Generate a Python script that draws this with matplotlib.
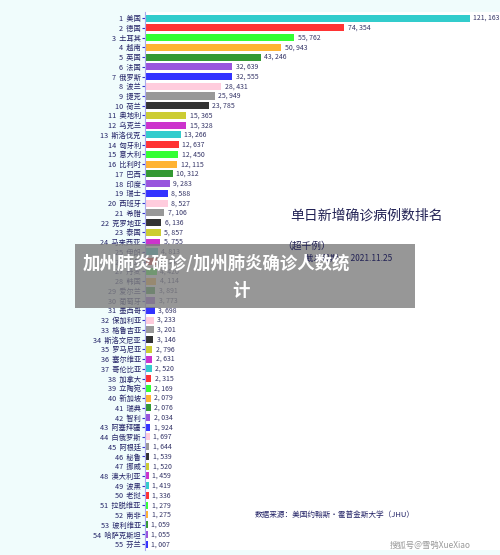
import matplotlib
matplotlib.use("Agg")
import matplotlib.pyplot as plt
from matplotlib.patches import Rectangle

plt.rcParams['font.family'] = ['Noto Sans CJK SC', 'DejaVu Sans']

countries = ["美国", "德国", "土耳其", "越南", "英国", "法国", "俄罗斯", "波兰", "捷克", "荷兰",
             "奥地利", "乌克兰", "斯洛伐克", "匈牙利", "意大利", "比利时", "巴西", "印度", "瑞士", "西班牙",
             "希腊", "克罗地亚", "泰国", "马来西亚", "伊朗", "约旦", "丹麦", "韩国", "爱尔兰", "葡萄牙",
             "墨西哥", "保加利亚", "格鲁吉亚", "斯洛文尼亚", "罗马尼亚", "塞尔维亚", "哥伦比亚", "加拿大", "立陶宛", "新加坡",
             "瑞典", "智利", "阿塞拜疆", "白俄罗斯", "阿根廷", "秘鲁", "挪威", "澳大利亚", "波黑", "老挝",
             "拉脱维亚", "南非", "玻利维亚", "哈萨克斯坦", "芬兰"]
cases = [121163, 74354, 55762, 50943, 43246, 32639, 32555, 28431, 25949, 23785,
         15365, 15328, 13266, 12637, 12450, 12115, 10312, 9283, 8588, 8527,
         7106, 6136, 5857, 5755, 4813, 4540, 4420, 4114, 3891, 3773,
         3698, 3233, 3201, 3146, 2796, 2631, 2520, 2315, 2169, 2079,
         2076, 2034, 1924, 1697, 1644, 1539, 1520, 1459, 1419, 1336,
         1279, 1275, 1059, 1055, 1007]
palette = ["#33cccc", "#ff3333", "#33ff33", "#ffb333", "#339933", "#9955dd",
           "#3333ff", "#ffccdd", "#999999", "#333333", "#cccc33", "#cc33cc"]

fig = plt.figure(figsize=(5, 5.55), dpi=100)
fig.patch.set_facecolor("#f0fcfc")
ax = fig.add_axes([0.29, 0.009, 0.71, 0.969])
ax.set_facecolor("white")

n = len(cases)
ypos = list(range(n))
colors = [palette[i % len(palette)] for i in range(n)]
ax.barh(ypos, cases, height=0.72, color=colors)
ax.set_ylim(n - 0.4, -0.6)
ax.set_xlim(0, 132500)
for y, v in zip(ypos, cases):
    ax.text(v + 1300, y, f"{v:,}".replace(",", ", "), va="center", fontsize=5, color="#333366")
ax.set_yticks(ypos)
ax.set_yticklabels([f"{i + 1}  {c}" for i, c in enumerate(countries)], fontsize=5.2, color="#222266")
ax.tick_params(axis="y", length=2, pad=1, colors="#3333cc", labelcolor="#222266")
ax.set_xticks([])
for s in ax.spines.values():
    s.set_visible(False)
ax.spines["left"].set_visible(True)
ax.spines["left"].set_color("#aaaaee")

fig.text(0.58, 0.605, "单日新增确诊病例数排名", fontsize=10, color="#222255")
fig.text(0.565, 0.552, "（超千例）", fontsize=7, color="#222255")
fig.text(0.61, 0.53, "截止日期：  2021.11.25", fontsize=6, color="#222255")
fig.text(0.51, 0.068, "数据来源：美国约翰斯・霍普金斯大学（JHU）", fontsize=5.5, color="#222266")
fig.text(0.78, 0.012, "搜狐号@雪鸮XueXiao", fontsize=6, color="#999999")

fig.patches.append(Rectangle((0.15, 0.445), 0.68, 0.115, transform=fig.transFigure,
                             facecolor="#808080", alpha=0.82, edgecolor="none"))
fig.text(0.165, 0.525, "加州肺炎确诊/加州肺炎确诊人数统", fontsize=12.5, color="white",
         fontweight="bold", va="center")
fig.text(0.465, 0.475, "计", fontsize=12.5, color="white", fontweight="bold", va="center")

fig.savefig("out.png", dpi=100, facecolor=fig.get_facecolor())
